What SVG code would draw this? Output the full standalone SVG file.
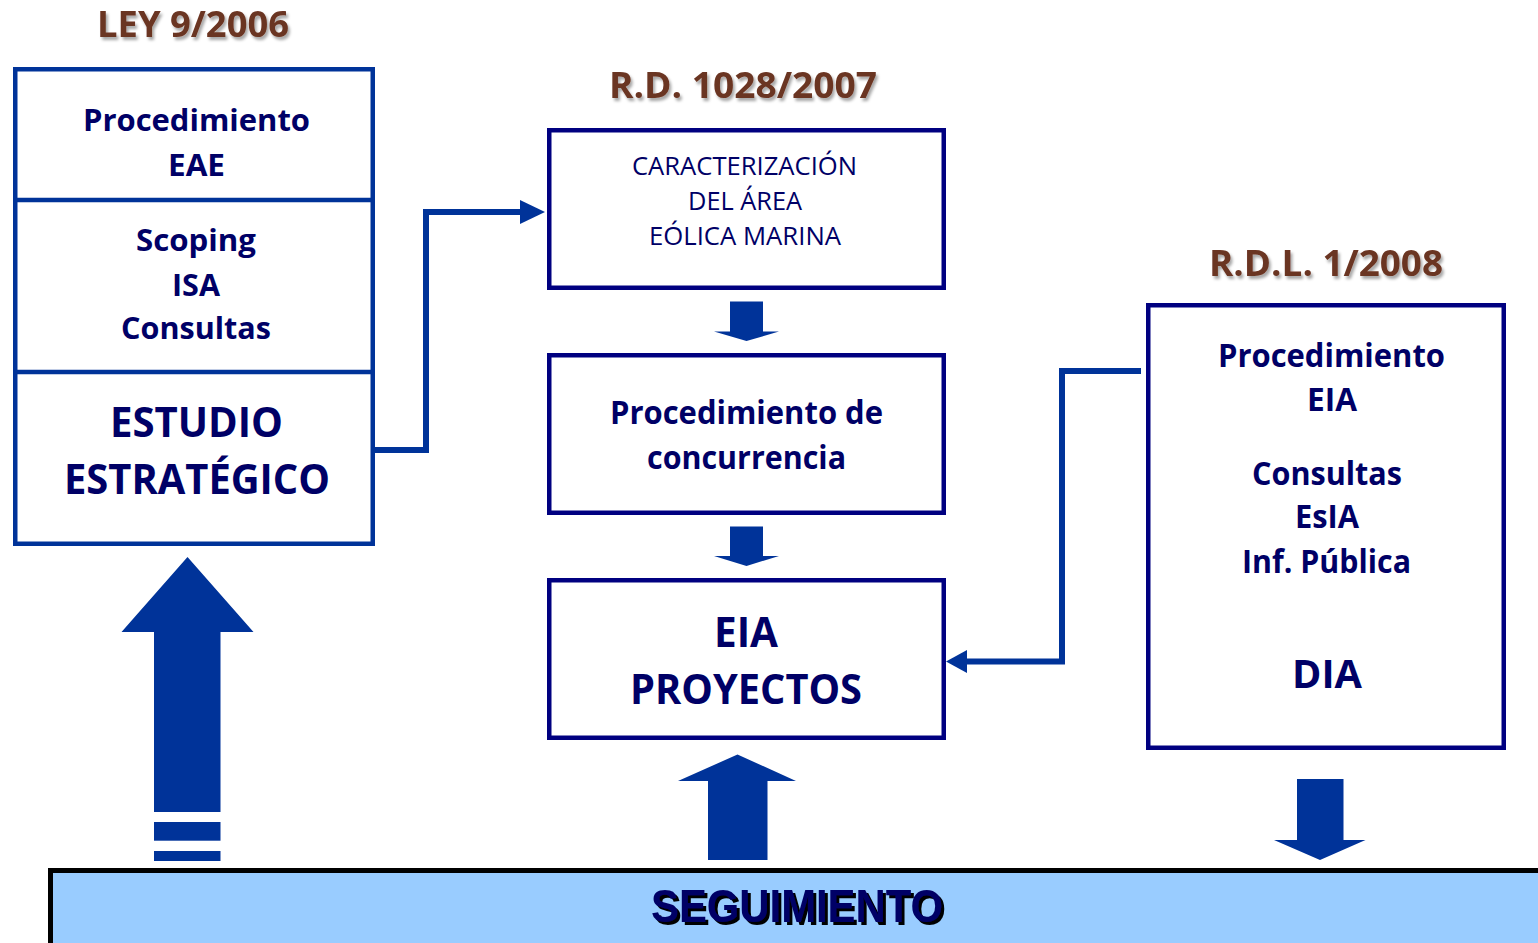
<svg xmlns="http://www.w3.org/2000/svg" width="1538" height="943" viewBox="0 0 1538 943">
<defs>
<style>
.t{font-family:"Open Sans","Liberation Sans",sans-serif;font-weight:700;fill:#000066;text-anchor:middle}
.r{font-family:"Open Sans","Liberation Sans",sans-serif;font-weight:400;fill:#000066;text-anchor:middle}
.ttl{font-family:"Open Sans","Liberation Sans",sans-serif;font-weight:700;fill:#6B3421;text-anchor:middle;font-size:36px}
.bx{fill:#fff;stroke:#000080;stroke-width:4.5}
.bl{fill:#fff;stroke:#003399;stroke-width:4.5}
.ln{fill:none;stroke:#003399;stroke-width:6}
.ar{fill:#003399}
</style>
<filter id="sh" x="-10%" y="-30%" width="130%" height="170%">
<feDropShadow dx="2" dy="3" stdDeviation="1.5" flood-color="#000" flood-opacity="0.35"/>
</filter>
<filter id="sh2" x="-10%" y="-30%" width="130%" height="170%">
<feDropShadow dx="3" dy="3" stdDeviation="0.6" flood-color="#000" flood-opacity="1"/>
</filter>
</defs>
<rect width="1538" height="943" fill="#fff"/>

<g id="titles">
<text class="ttl" x="193" y="37" textLength="192" lengthAdjust="spacingAndGlyphs" filter="url(#sh)">LEY 9/2006</text>
<text class="ttl" x="743" y="98" textLength="268" lengthAdjust="spacingAndGlyphs" filter="url(#sh)">R.D. 1028/2007</text>
<text class="ttl" x="1326" y="276" textLength="234" lengthAdjust="spacingAndGlyphs" filter="url(#sh)">R.D.L. 1/2008</text>
</g>

<g id="ley-box">
<rect class="bl" x="15.25" y="69.25" width="357.5" height="474.5"/>
<line x1="15" y1="200" x2="373" y2="200" stroke="#003399" stroke-width="4.5"/>
<line x1="15" y1="372" x2="373" y2="372" stroke="#003399" stroke-width="4.5"/>
<text class="t" font-size="31" x="196.5" y="131" textLength="227" lengthAdjust="spacingAndGlyphs">Procedimiento</text>
<text class="t" font-size="31" x="196.5" y="176" textLength="57" lengthAdjust="spacingAndGlyphs">EAE</text>
<text class="t" font-size="31" x="196" y="251" textLength="120" lengthAdjust="spacingAndGlyphs">Scoping</text>
<text class="t" font-size="31" x="196" y="296" textLength="48" lengthAdjust="spacingAndGlyphs">ISA</text>
<text class="t" font-size="31" x="196" y="339" textLength="150" lengthAdjust="spacingAndGlyphs">Consultas</text>
<text class="t" font-size="42" x="196.5" y="437" textLength="173" lengthAdjust="spacingAndGlyphs">ESTUDIO</text>
<text class="t" font-size="42" x="197" y="494" textLength="266" lengthAdjust="spacingAndGlyphs">ESTRATÉGICO</text>
</g>

<g id="caracterizacion">
<rect class="bx" x="549.25" y="130.25" width="394.5" height="157.5"/>
<text class="r" font-size="25" x="744.5" y="175" textLength="225" lengthAdjust="spacingAndGlyphs">CARACTERIZACIÓN</text>
<text class="r" font-size="25" x="745" y="210" textLength="114" lengthAdjust="spacingAndGlyphs">DEL ÁREA</text>
<text class="r" font-size="25" x="745" y="245" textLength="192" lengthAdjust="spacingAndGlyphs">EÓLICA MARINA</text>
</g>

<g id="concurrencia">
<rect class="bx" x="549.25" y="355.25" width="394.5" height="157.5"/>
<text class="t" font-size="32" x="746.5" y="424" textLength="273" lengthAdjust="spacingAndGlyphs">Procedimiento de</text>
<text class="t" font-size="32" x="746.5" y="469" textLength="199" lengthAdjust="spacingAndGlyphs">concurrencia</text>
</g>

<g id="eia-proyectos">
<rect class="bx" x="549.25" y="580.25" width="394.5" height="157.5"/>
<text class="t" font-size="42" x="746" y="647" textLength="64" lengthAdjust="spacingAndGlyphs">EIA</text>
<text class="t" font-size="42" x="746" y="704" textLength="232" lengthAdjust="spacingAndGlyphs">PROYECTOS</text>
</g>

<g id="rdl-box">
<rect class="bx" x="1148.25" y="305.25" width="355.5" height="442.5"/>
<text class="t" font-size="32" x="1331.5" y="367" textLength="227" lengthAdjust="spacingAndGlyphs">Procedimiento</text>
<text class="t" font-size="32" x="1332" y="411" textLength="50" lengthAdjust="spacingAndGlyphs">EIA</text>
<text class="t" font-size="32" x="1327" y="485" textLength="150" lengthAdjust="spacingAndGlyphs">Consultas</text>
<text class="t" font-size="32" x="1327" y="528" textLength="64" lengthAdjust="spacingAndGlyphs">EsIA</text>
<text class="t" font-size="32" x="1326.5" y="573" textLength="169" lengthAdjust="spacingAndGlyphs">Inf. Pública</text>
<text class="t" font-size="40" x="1327" y="688" textLength="70" lengthAdjust="spacingAndGlyphs">DIA</text>
</g>

<g id="seguimiento">
<rect x="50.5" y="870.5" width="1500" height="100" fill="#99CCFF" stroke="#000" stroke-width="5"/>
<text x="797" y="922" font-family="'Liberation Sans',Arial,sans-serif" font-weight="700" font-size="46" fill="#000066" text-anchor="middle" textLength="292" lengthAdjust="spacingAndGlyphs" filter="url(#sh2)">SEGUIMIENTO</text>
</g>

<g id="connectors">
<path class="ln" d="M375,450 H426 V212 H523"/>
<polygon class="ar" points="520,200 545,212 520,224"/>
<path class="ln" d="M1141,371 H1062 V661.5 H964"/>
<polygon class="ar" points="967,650 946,661.5 967,673"/>
<polygon class="ar" points="730,301.5 763,301.5 763,331.5 779,331.5 746.5,341 714,331.5 730,331.5"/>
<polygon class="ar" points="730,526.5 763,526.5 763,556 779,556 746.5,566 714,556 730,556"/>
<polygon class="ar" points="154,812 154,632 121.5,632 187.5,557 253.5,632 220.5,632 220.5,812"/>
<rect class="ar" x="154" y="822" width="66.5" height="18.7"/>
<rect class="ar" x="154" y="851" width="66.5" height="10"/>
<polygon class="ar" points="708,860 708,781 678,781 737.5,754.5 796,781 767.5,781 767.5,860"/>
<polygon class="ar" points="1297,779 1343.5,779 1343.5,840 1365.5,840 1320,860 1274,840 1297,840"/>
</g>
</svg>
